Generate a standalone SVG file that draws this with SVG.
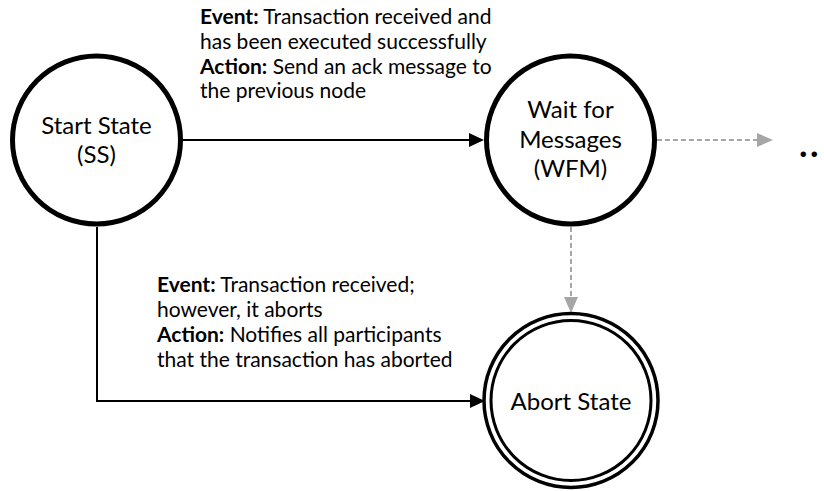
<svg xmlns="http://www.w3.org/2000/svg" width="824" height="491" viewBox="0 0 824 491">
  <style>
    .bg { fill: #ffffff; }
    .state { fill: #ffffff; stroke: #000000; stroke-width: 5; }
    .ring { fill: #ffffff; stroke: #000000; }
    .node-text { font-family: Lato, "Liberation Sans", sans-serif; font-size: 24px; fill: #000000; text-anchor: middle; }
    .label { font-family: Lato, "Liberation Sans", sans-serif; font-size: 21px; fill: #000000; }
    .label .b { font-weight: bold; }
    .edge { fill: none; stroke: #000000; stroke-width: 2; }
    .edge-dash { fill: none; stroke: #a6a6a6; stroke-width: 2; stroke-dasharray: 5 3; }
    .more { font-family: Lato, "Liberation Sans", sans-serif; font-size: 36px; font-weight: bold; fill: #000000; }
  </style>
  <defs>
    <marker id="arrow-black" markerUnits="userSpaceOnUse" markerWidth="15" markerHeight="14" refX="5" refY="7" orient="auto">
      <path d="M0,0 L15,7 L0,14 Z" fill="#000000"/>
    </marker>
    <marker id="arrow-gray" markerUnits="userSpaceOnUse" markerWidth="16" markerHeight="14" refX="6" refY="7" orient="auto">
      <path d="M0,0 L16,7 L0,14 Z" fill="#a6a6a6"/>
    </marker>
  </defs>

  <rect class="bg" x="0" y="0" width="824" height="491"/>

  <!-- transitions -->
  <g id="connectors">
    <path class="edge" d="M183,140 H474" marker-end="url(#arrow-black)"/>
    <path class="edge" d="M97,227 V401 H475" marker-end="url(#arrow-black)"/>
    <path class="edge-dash" d="M657,140 H763" marker-end="url(#arrow-gray)"/>
    <path class="edge-dash" d="M571,227 V303" marker-end="url(#arrow-gray)" transform="translate(0,0)"/>
  </g>

  <!-- transition labels -->
  <g id="label-ss-wfm">
    <text class="label" x="200" y="24"><tspan class="b">Event:</tspan> Transaction received and</text>
    <text class="label" x="200" y="49">has been executed successfully</text>
    <text class="label" x="200" y="74"><tspan class="b">Action:</tspan> Send an ack message to</text>
    <text class="label" x="200" y="98">the previous node</text>
  </g>
  <g id="label-ss-abort">
    <text class="label" x="157" y="292"><tspan class="b">Event:</tspan> Transaction received;</text>
    <text class="label" x="157" y="317">however, it aborts</text>
    <text class="label" x="157" y="342"><tspan class="b">Action:</tspan> Notifies all participants</text>
    <text class="label" x="157" y="367">that the transaction has aborted</text>
  </g>

  <!-- states -->
  <g id="start-state">
    <circle class="state" cx="96.5" cy="140" r="84"/>
    <text class="node-text" x="96.5" y="134">Start State</text>
    <text class="node-text" x="96.5" y="163">(SS)</text>
  </g>
  <g id="wait-for-messages">
    <circle class="state" cx="570.5" cy="140" r="84"/>
    <text class="node-text" x="570.5" y="118">Wait for</text>
    <text class="node-text" x="570.5" y="148">Messages</text>
    <text class="node-text" x="570.5" y="177">(WFM)</text>
  </g>
  <g id="abort-state">
    <circle class="ring" cx="571" cy="400.5" r="87" stroke-width="3.5"/>
    <circle class="ring" cx="571" cy="400.5" r="80" stroke-width="3"/>
    <text class="node-text" x="571" y="410">Abort State</text>
  </g>

  <g id="continuation">
    <text class="more" x="799 810" y="157">..</text>
  </g>
</svg>
